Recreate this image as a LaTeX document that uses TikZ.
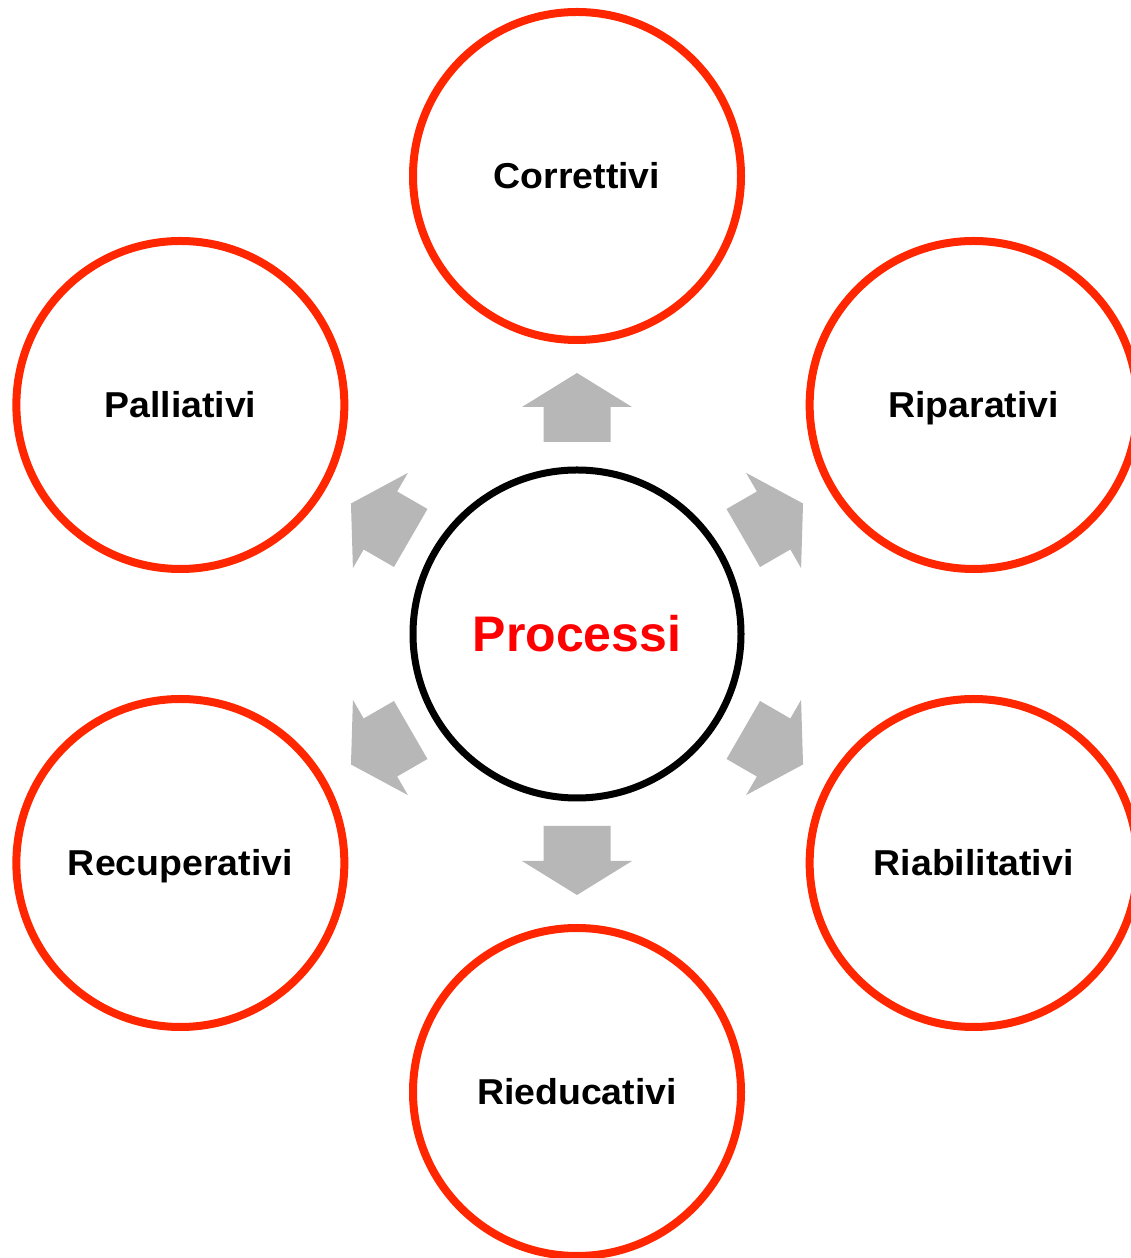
\documentclass[tikz,border=0pt]{standalone}
\usepackage{fontspec}
\setmainfont{Liberation Sans}
\definecolor{ringred}{HTML}{FF2600}
\definecolor{procred}{HTML}{FF0000}
\definecolor{arrgray}{HTML}{B7B7B7}
\newcommand{\widelbl}[1]{\scalebox{1.04}[1]{#1}}
\begin{document}
\begin{tikzpicture}[x=1pt,y=1pt,
  outerring/.style={circle, draw=ringred, line width=8pt, minimum size=328pt,
    inner sep=0pt, text height=25.8pt, text depth=0pt,
    font=\fontsize{36}{43}\selectfont\bfseries},
  centerring/.style={circle, draw=black, line width=7pt, minimum size=328pt,
    inner sep=0pt, text height=35.8pt, text depth=0pt, text=procred,
    font=\fontsize{50}{60}\selectfont\bfseries},
  blockarrow/.style={fill=arrgray}
]
\useasboundingbox (0,0) rectangle (1130,1258);
\coordinate (c) at (577,624);
\node[centerring] (proc) at (c) {Processi};
\node[outerring] (cor) at ([shift={(90:458)}]c) {\widelbl{Correttivi}};
\node[outerring] (rip) at ([shift={(30:458)}]c) {\widelbl{Riparativi}};
\node[outerring] (ria) at ([shift={(-30:458)}]c) {\widelbl{Riabilitativi}};
\node[outerring] (rie) at ([shift={(-90:458)}]c) {\widelbl{Rieducativi}};
\node[outerring] (rec) at ([shift={(-150:458)}]c) {\widelbl{Recuperativi}};
\node[outerring] (pal) at ([shift={(150:458)}]c) {\widelbl{Palliativi}};
\foreach \a in {90,30,-30,-90,-150,150}{
  \fill[blockarrow, shift={(c)}, rotate=\a]
    (192,-33.5) -- (227,-33.5) -- (227,-55) -- (261,0) -- (227,55)
    -- (227,33.5) -- (192,33.5) -- cycle;
}
\end{tikzpicture}
\end{document}
